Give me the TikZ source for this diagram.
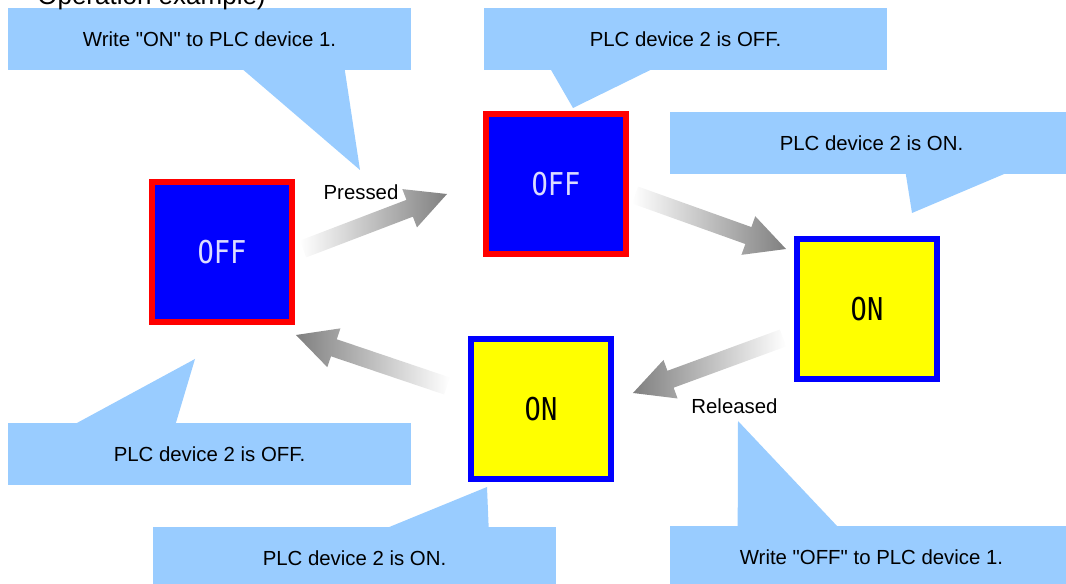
\documentclass[tikz,border=0pt]{standalone}
\usepackage{fontspec}
\setmainfont{Liberation Sans}
\newfontfamily\layarfont[FakeStretch=0.86]{DejaVu Sans Mono}
\usepackage{tikz}
\usetikzlibrary{calc}
\definecolor{biru}{HTML}{99CCFF}
\definecolor{teksoff}{HTML}{DCDCFF}
\definecolor{kuning}{RGB}{255,255,0}
\definecolor{birutua}{RGB}{0,0,255}
\definecolor{merah}{RGB}{255,0,0}

\begin{document}
\begin{tikzpicture}[
    x=0.02cm, y=-0.02cm,
    tombol/.style={draw, line width=0.12cm, minimum size=2.8cm, inner sep=0pt,
                   font=\layarfont\fontsize{17.9pt}{20pt}\selectfont},
    balon/.style={fill=biru, minimum width=8.06cm, minimum height=1.24cm, inner sep=0pt,
                  font=\fontsize{11.6pt}{14pt}\selectfont},
    ekor/.style={fill=biru},
    teks/.style={inner sep=0pt, font=\fontsize{11.6pt}{14pt}\selectfont}
  ]
    \clip (0,0) rectangle (1066,584);
    \node[balon] (tulisOn) at (209.5,39) {Write \textquotedbl ON\textquotedbl{} to PLC device 1.};
    \node[balon] (infoOffB) at (685.5,39) {PLC device 2 is OFF.};
    \node[balon] (infoOnC) at (871.5,143) {PLC device 2 is ON.};
    \node[balon] (infoOffA) at (209.5,454) {PLC device 2 is OFF.};
    \node[balon] (infoOnD) at (354.5,558) {PLC device 2 is ON.};
    \node[balon] (tulisOff) at (871.5,557) {Write \textquotedbl OFF\textquotedbl{} to PLC device 1.};
    \fill[ekor] ($(tulisOn.south west)+(235,-1)$) -- ($(tulisOn.south west)+(337,-1)$) -- (360,170) -- cycle;
    \fill[ekor] ($(infoOffB.south west)+(67,-1)$) -- ($(infoOffB.south west)+(168,-1)$) -- (573,108) -- cycle;
    \fill[ekor] ($(infoOnC.south west)+(236,-1)$) -- ($(infoOnC.south west)+(336,-1)$) -- (912,213) -- cycle;
    \fill[ekor] ($(infoOffA.north west)+(68,1)$) -- ($(infoOffA.north west)+(168,1)$) -- (195,359) -- cycle;
    \fill[ekor] ($(infoOnD.north west)+(235,1)$) -- ($(infoOnD.north west)+(336,1)$) -- (487,487) -- cycle;
    \fill[ekor] ($(tulisOff.north west)+(68,1)$) -- ($(tulisOff.north west)+(168,1)$) -- (738,421) -- cycle;
    \node[tombol, draw=merah, fill=birutua, text=teksoff] (offA) at (222,252) {OFF};
    \node[tombol, draw=merah, fill=birutua, text=teksoff] (offB) at (556,184) {OFF};
    \node[tombol, draw=birutua, fill=kuning] (onC) at (867,309) {ON};
    \node[tombol, draw=birutua, fill=kuning] (onD) at (541,409) {ON};
    \coordinate (e1) at ($(offA.east)+(8,-3)$);
    \coordinate (u1) at ($(offB.west)+(-36,10)$);
    \coordinate (e2) at ($(offB.east)+(6,11)$);
    \coordinate (u2) at ($(onC.north west)+(-8,13)$);
    \coordinate (e3) at ($(onC.west)+(-11,29)$);
    \coordinate (u3) at ($(onD.east)+(19,-16)$);
    \coordinate (e4) at ($(onD.west)+(-21,-23)$);
    \coordinate (u4) at ($(offA.south east)+(1,10)$);
    \foreach \ekor/\ujung/\ka/\ki in {e1/u1/white/gray, e2/u2/white/gray, e3/u3/gray/white, e4/u4/gray/white}{
      \coordinate (h) at ($(\ujung)!0.8cm!(\ekor)$);
      \shade[left color=\ka, right color=\ki]
        ($(\ekor)!0.18cm!90:(\ujung)$) -- ($(h)!0.18cm!90:(\ujung)$) -- ($(h)!0.41cm!90:(\ujung)$) -- (\ujung)
        -- ($(h)!0.41cm!-90:(\ujung)$) -- ($(h)!0.18cm!-90:(\ujung)$) -- ($(\ekor)!0.18cm!-90:(\ujung)$) -- cycle;
    }
    \node[teks] (tekan) at (361,192) {Pressed};
    \node[teks] (lepas) at (734.5,406) {Released};
    \node[teks, font=\fontsize{14.8pt}{17pt}\selectfont, anchor=base west] (judul) at (37,4.5) {Operation example)};
  \end{tikzpicture}
\end{document}
